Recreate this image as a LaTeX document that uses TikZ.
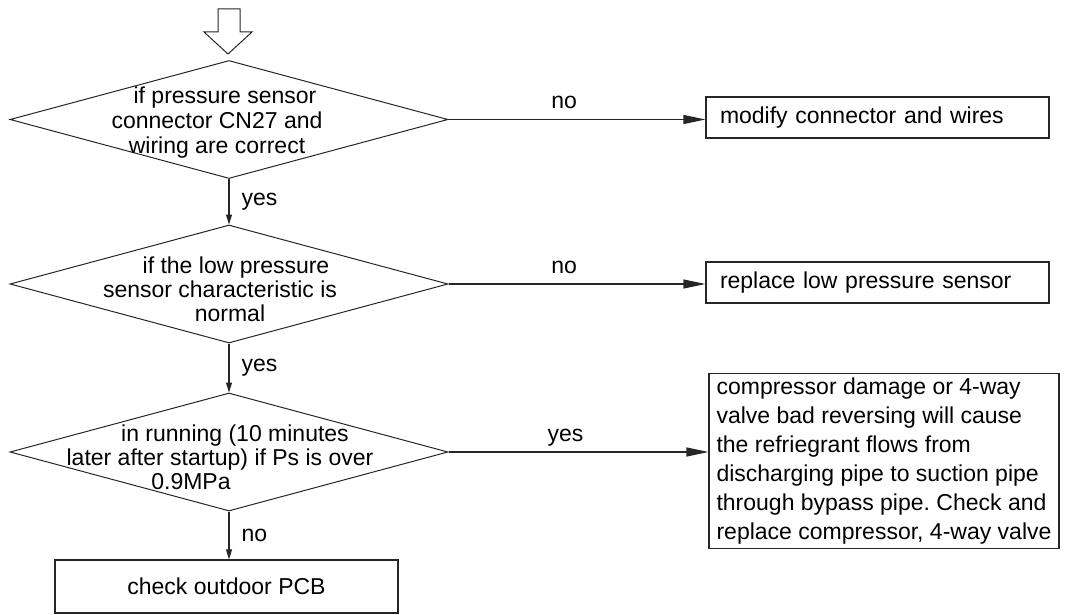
\documentclass[tikz,border=0pt]{standalone}
\usepackage{fontspec}
\setmainfont{Liberation Sans}
\usetikzlibrary{shapes.geometric, arrows.meta, positioning}
\frenchspacing

\begin{document}
\begin{tikzpicture}[x=1pt, y=-1pt,
        ink/.style={draw=black!85, line width=1pt},
        decision/.style={diamond, draw=black!85, line width=1pt, minimum width=438pt, minimum height=118pt, inner sep=0pt},
        qtext/.style={align=center, font=\fontsize{23pt}{24pt}\selectfont, inner sep=0pt},
        action/.style={rectangle, draw=black!85, line width=1.2pt, font=\fontsize{23pt}{29pt}\selectfont},
        hflow/.style={-{Triangle[length=22pt, width=9pt]}, draw=black!85, line width=1.2pt},
        vflow/.style={-{Triangle[length=10pt, width=6pt]}, draw=black!85, line width=1.1pt},
        lbl/.style={font=\fontsize{23pt}{24pt}\selectfont, inner sep=2pt}]

        \useasboundingbox (0,0) rectangle (1067,615);

        % Entry arrow
        \draw[ink, fill=white] (218,9) -- (240,9) -- (240,32) -- (252,32) -- (228,54) -- (204,32) -- (218,32) -- cycle;

        % Decisions
        \node[decision] (d1) at (229,119.5) {};
        \node[qtext, font=\fontsize{23pt}{25pt}\selectfont] (d1t) at (217,123) {\hspace*{16pt}if pressure sensor\\connector CN27 and\\wiring are correct};

        \node[decision] (d2) at (229,284) {};
        \node[qtext] (d2t) at (220,289) {\hspace*{32pt}if the low pressure\\sensor characteristic is\hspace*{38pt}\\\hspace*{20pt}normal};

        \node[decision] (d3) at (229,452) {};
        \node[qtext] (d3t) at (220,457.5) {\hspace*{30pt}in running (10 minutes\\later after startup) if Ps is over\\0.9MPa\hspace*{58pt}};

        % Actions
        \node[action, text width=315pt, inner xsep=14pt, minimum height=41pt, align=left] (fix1) at (877.5,117.5) {modify connector and wires};
        \node[action, text width=315pt, inner xsep=14pt, minimum height=41pt, align=left] (fix2) at (877.5,282.5) {replace low pressure sensor};
        \node[action, align=left, inner xsep=7.5pt, inner ysep=4.5pt] (fix3) at (884,461) {compressor damage or 4-way\\valve bad reversing will cause\\the refriegrant flows from\\discharging pipe to suction pipe\\through bypass pipe. Check and\\replace compressor, 4-way valve};
        \node[action, minimum width=343pt, minimum height=53pt] (pcb) at (226.5,586.5) {check outdoor PCB};

        % Flow down
        \draw[vflow] (d1.south) -- node[lbl, right=10pt] (y1) {yes} (d2.north);
        \draw[vflow] (d2.south) -- node[lbl, right=10pt] (y2) {yes} (d3.north);
        \draw[vflow] (d3.south) -- node[lbl, right=10pt] (n3) {no} (d3.south |- pcb.north);

        % Flow right
        \draw[hflow] (d1.east) -- node[lbl, pos=0.45, anchor=base, yshift=11pt] (n1) {no} (d1.east -| fix1.west);
        \draw[hflow] (d2.east) -- node[lbl, pos=0.45, anchor=base, yshift=11pt] (n2) {no} (d2.east -| fix2.west);
        \draw[hflow] (d3.east) -- node[lbl, pos=0.45, anchor=base, yshift=11pt] (y3) {yes} (d3.east -| fix3.west);
\end{tikzpicture}
\end{document}
